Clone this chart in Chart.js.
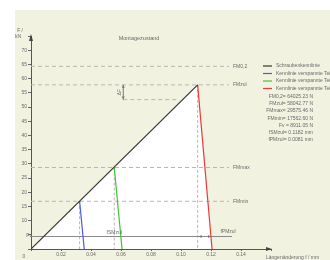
<!DOCTYPE html>
<html><head><meta charset="utf-8">
<script src="https://cdn.jsdelivr.net/npm/chart.js@4/dist/chart.umd.min.js"></script>
<style>html,body{margin:0;padding:0;background:#fff;width:330px;height:260px;overflow:hidden}#c{display:block}</style>
</head><body><canvas id="c" width="330" height="260"></canvas>
<script>
// ---- data ----
const title = 'Montagezustand';
const xAxisTitle = 'Längenänderung f / mm';
const yAxisTitle = ['F /', 'kN'];
const xTickLabels = ['0.02','0.04','0.06','0.08','0.10','0.12','0.14'];
const yTickLabels = ['10','15','20','25','30','35','40','45','50','55','60','65','70'];
const seriesNames = ['Schraubenkennlinie','Kennlinie verspannte Teile','Kennlinie verspannte Teile','Kennlinie verspannte Teile'];
const schraubeX = [0, 0.1111];
const schraubeY = [0, 57.8];
const blauX = [0.0324, 0.0355];
const blauY = [16.8, 0];
const gruenX = [0.0555, 0.0607];
const gruenY = [28.7, 0];
const rotX = [0.1111, 0.1207];
const rotY = [57.8, 0];
const levelNames = ['FM0,2', 'FMzul', 'FMmax', 'FMmin'];
const levelValues = [64.3, 57.8, 28.7, 16.8];
const levelEnd = 0.132;
const fvName = 'Fv';
const fvValue = 4.4;
const fvEnd = 0.134;
const deltaName = 'ΔF';
const deltaX = [0.0615, 0.0990];
const deltaY = [52.6, 57.8];
const fSName = 'fSMzul';
const fPName = 'fPMzul';
const infoLabels = ['FM0,2=','FMzul=','FMmax=','FMmin=','Fv =','fSMzul=','fPMzul='];
const infoValues = ['64025.23 N','58042.77 N','29575.46 N','17562.60 N','8911.05 N','0.1182 mm','0.0081 mm'];

// ---- styles ----
const FONT = '"Liberation Sans", Arial, sans-serif';
const colors = ['#333333', '#4a5ce0', '#3cc43c', '#e83a3a'];
const gray = '#b8b8b0';
const txt = '#6a6a6a';

const pts = (xs, ys) => xs.map((x, i) => ({x, y: ys[i]}));
const lineDs = (data, color, extra) => Object.assign({
  data, showLine: true, pointRadius: 0, borderColor: color, borderWidth: 1, fill: false, order: 1, tension: 0
}, extra || {});

const datasets = [];
// level dashed lines
levelValues.forEach(v => datasets.push(lineDs([{x: 0, y: v}, {x: levelEnd, y: v}], gray, {borderDash: [4, 3], order: 10})));
// verticals (dashed) from intersections
[[blauX[0], blauY[0]], [gruenX[0], gruenY[0]], [rotX[0], rotY[0]]].forEach(p =>
  datasets.push(lineDs([{x: p[0], y: p[1]}, {x: p[0], y: 0}], gray, {borderDash: [3, 2], order: 10})));
// Fv line
datasets.push(lineDs([{x: 0, y: fvValue}, {x: fvEnd, y: fvValue}], '#8a8a8a', {order: 9}));
// delta dimension
datasets.push(lineDs([{x: deltaX[0], y: deltaY[0]}, {x: deltaX[1], y: deltaY[0]}], gray, {borderDash: [4, 3], order: 10}));
datasets.push(lineDs([{x: deltaX[0], y: deltaY[0]}, {x: deltaX[0], y: deltaY[1]}], '#777', {order: 9}));
// characteristic lines
datasets.push(lineDs(pts(schraubeX, schraubeY), colors[0], {order: 2, borderWidth: 1.2}));
datasets.push(lineDs(pts(blauX, blauY), colors[1], {order: 2, borderWidth: 1.2}));
datasets.push(lineDs(pts(gruenX, gruenY), colors[2], {order: 2, borderWidth: 1.2}));
datasets.push(lineDs(pts(rotX, rotY), colors[3], {order: 2, borderWidth: 1.2}));

function tri(ctx, a, b, c) { ctx.beginPath(); ctx.moveTo(a[0], a[1]); ctx.lineTo(b[0], b[1]); ctx.lineTo(c[0], c[1]); ctx.closePath(); ctx.fill(); }

const deco = {
  id: 'deco',
  beforeDraw(chart) {
    const ctx = chart.ctx;
    ctx.save();
    ctx.fillStyle = '#ffffff';
    ctx.fillRect(0, 0, chart.width, chart.height);
    ctx.fillStyle = '#f2f2e1';
    ctx.fillRect(15, 10, chart.width - 15, chart.height - 10);
    ctx.restore();
  },
  beforeDatasetsDraw(chart) {
    // white working area under the characteristic lines
    const ctx = chart.ctx, xs = chart.scales.x, ys = chart.scales.y;
    ctx.save();
    ctx.fillStyle = '#ffffff';
    ctx.beginPath();
    ctx.moveTo(xs.getPixelForValue(schraubeX[0]), ys.getPixelForValue(schraubeY[0]));
    ctx.lineTo(xs.getPixelForValue(schraubeX[1]), ys.getPixelForValue(schraubeY[1]));
    ctx.lineTo(xs.getPixelForValue(rotX[1]), ys.getPixelForValue(rotY[1]));
    ctx.closePath();
    ctx.fill();
    ctx.restore();
  },
  afterDraw(chart) {
    const ctx = chart.ctx, xs = chart.scales.x, ys = chart.scales.y, ca = chart.chartArea;
    ctx.save();
    // axis arrows
    ctx.fillStyle = '#444';
    tri(ctx, [ca.left, ca.top - 2], [ca.left - 2, ca.top + 5], [ca.left + 2, ca.top + 5]);
    tri(ctx, [ca.right + 1, ca.bottom], [ca.right - 5, ca.bottom - 2], [ca.right - 5, ca.bottom + 2]);
    // title
    ctx.fillStyle = txt;
    ctx.font = '5.5px ' + FONT;
    ctx.textAlign = 'center'; ctx.textBaseline = 'middle';
    ctx.fillText(title, 139, 38);
    ctx.font = '5px ' + FONT;
    // y axis title
    ctx.textAlign = 'right';
    ctx.fillText(yAxisTitle[0], 23, 31);
    ctx.fillText(yAxisTitle[1], 21, 37);
    // x axis title
    ctx.textAlign = 'left';
    ctx.fillText(xAxisTitle, 266, 258);
    // origin and Fv labels
    ctx.textAlign = 'center';
    ctx.fillText('0', 24, 257);
    ctx.fillText(fvName, 29, ys.getPixelForValue(fvValue) - 1);
    // level labels
    ctx.textAlign = 'left';
    levelValues.forEach((v, i) => ctx.fillText(levelNames[i], xs.getPixelForValue(levelEnd) + 4, ys.getPixelForValue(v)));
    // f labels on Fv line
    const fy = ys.getPixelForValue(fvValue);
    ctx.textAlign = 'center';
    ctx.fillText(fSName, xs.getPixelForValue(0.0555), fy - 4);
    ctx.textAlign = 'left';
    ctx.fillText(fPName, xs.getPixelForValue(0.1263), fy - 5);
    // small arrowheads on Fv line
    ctx.fillStyle = '#777';
    const px = xs.getPixelForValue(rotX[0]), pr = xs.getPixelForValue(rotX[1]);
    tri(ctx, [px + 1, fy], [px + 4, fy - 1.5], [px + 4, fy + 1.5]);
    tri(ctx, [pr - 1, fy], [pr - 4, fy - 1.5], [pr - 4, fy + 1.5]);
    // delta dimension arrows + label
    const dx = xs.getPixelForValue(deltaX[0]);
    const d0 = ys.getPixelForValue(deltaY[0]), d1 = ys.getPixelForValue(deltaY[1]);
    tri(ctx, [dx, d1], [dx - 1.5, d1 + 3], [dx + 1.5, d1 + 3]);
    tri(ctx, [dx, d0], [dx - 1.5, d0 - 3], [dx + 1.5, d0 - 3]);
    ctx.fillStyle = txt;
    ctx.save();
    ctx.translate(dx - 4, (d0 + d1) / 2);
    ctx.rotate(-Math.PI / 2);
    ctx.textAlign = 'center';
    ctx.fillText(deltaName, 0, 0);
    ctx.restore();
    // legend
    ctx.textAlign = 'left';
    seriesNames.forEach((n, i) => {
      const y = 66 + i * 7.5;
      ctx.strokeStyle = colors[i]; ctx.lineWidth = 1.2;
      ctx.beginPath(); ctx.moveTo(263, y); ctx.lineTo(272, y); ctx.stroke();
      ctx.fillStyle = txt;
      ctx.fillText(n, 276, y);
    });
    // info block
    ctx.textAlign = 'right';
    infoLabels.forEach((l, i) => {
      ctx.fillText(l + ' ' + infoValues[i], 313, 96.5 + i * 7.25);
    });
    ctx.restore();
  }
};

new Chart(document.getElementById('c'), {
  type: 'line',
  data: { datasets },
  options: {
    responsive: false, animation: false, devicePixelRatio: 1,
    layout: { padding: { left: 0, top: 36, right: 59, bottom: 0 } },
    plugins: { legend: { display: false }, tooltip: { enabled: false }, title: { display: false } },
    scales: {
      x: {
        type: 'linear', min: 0, max: 0.16,
        afterFit: s => { s.height = 11; },
        grid: { display: true, drawOnChartArea: false, drawTicks: true, tickLength: 2, color: '#666' },
        border: { display: true, color: '#555', width: 1 },
        ticks: { stepSize: 0.02, autoSkip: false, maxRotation: 0, padding: 1, color: txt,
          font: { size: 5, family: FONT },
          callback: (v, i) => (i >= 1 && i <= xTickLabels.length) ? xTickLabels[i - 1] : '' }
      },
      y: {
        type: 'linear', min: 0, max: 75,
        afterFit: s => { s.width = 31; },
        grid: { display: true, drawOnChartArea: false, drawTicks: true, tickLength: 3, color: '#666' },
        border: { display: true, color: '#555', width: 1 },
        ticks: { stepSize: 5, autoSkip: false, padding: 1, color: txt,
          font: { size: 5, family: FONT },
          callback: (v, i) => (i >= 2 && i < 2 + yTickLabels.length) ? yTickLabels[i - 2] : '' }
      }
    }
  },
  plugins: [deco]
});
</script>
</body></html>
